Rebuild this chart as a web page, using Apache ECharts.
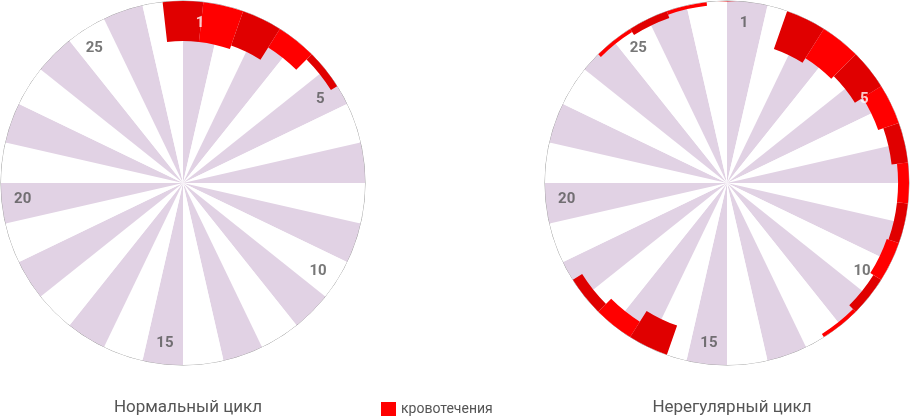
<!DOCTYPE html><html><head><meta charset="utf-8">
<script src="https://cdn.jsdelivr.net/npm/echarts@6/dist/echarts.min.js"></script>
<style>body{margin:0}#c{width:911px;height:416px}</style></head><body><div id="c"></div>
<script>
const days = Array.from({length:28},(_,i)=>String(i+1));
const normalBleed = [0.22,0.22,0.2,0.12,0.04,0,0,0,0,0,0,0,0,0,0,0,0,0,0,0,0,0,0,0,0,0,0,0];
const irregularBleed = [0,0,0.22,0.19,0.17,0.12,0.09,0.06,0.06,0.07,0.05,0.02,0,0,0,0,0.17,0.1,0.06,0,0,0,0,0,0,0.02,0.04,0.02];
const tickLabels = ['1','5','10','15','20','25'];
const tickPosNormal = [0.47,4.55,9.57,14.5,20.56,25.4];
const tickPosIrregular = [0.47,4.55,9.57,14.5,20.56,25.4];
const titles = ['Нормальный цикл','Нерегулярный цикл'];
const legendName = 'кровотечения';

const centers = [183,727];
const polar=[],angleAxis=[],radiusAxis=[],series=[];
function build(k,bleed,tpos,whiteIdx){
  const pi = k*2;
  [0,1].forEach(j=>{
    polar.push({center:[centers[k],183],radius:182});
    radiusAxis.push({polarIndex:pi+j,min:0,max:1,show:false});
  });
  angleAxis.push({polarIndex:pi,type:'category',data:days,startAngle:90+360/56,clockwise:true,
    axisLine:{show:false},axisTick:{show:false},axisLabel:{show:false},splitLine:{show:false}});
  angleAxis.push({polarIndex:pi+1,type:'value',min:0,max:28,startAngle:90,clockwise:true,
    axisLine:{show:true,lineStyle:{color:'#999',width:1}},axisTick:{show:false},axisLabel:{show:false},splitLine:{show:false}});
  series.push({type:'pie',center:[centers[k],183],radius:[0,182],startAngle:90,clockwise:true,silent:true,z:1,
    label:{show:false},labelLine:{show:false},
    data:days.map((d,i)=>({value:1,name:d,itemStyle:{color:i%2===0?'#e1d2e4':'#ffffff'}}))});
  series.push({type:'bar',coordinateSystem:'polar',polarIndex:pi,barWidth:'100%',barCategoryGap:'0%',stack:'s'+k,silent:true,z:3,
    data:bleed.map(v=>({value:1-v,itemStyle:{color:'rgba(0,0,0,0)'}}))});
  series.push({type:'bar',coordinateSystem:'polar',polarIndex:pi,barWidth:'100%',barCategoryGap:'0%',stack:'s'+k,name:legendName,z:3,
    itemStyle:{color:'#ff0000'},
    data:bleed.map((v,i)=>({value:v,itemStyle:{color:i%2===0?'#e00000':'#ff0000'}}))});
  series.push({type:'scatter',coordinateSystem:'polar',polarIndex:pi+1,symbolSize:0,silent:true,z:5,
    data:tickLabels.map((t,i)=>({value:[0.885,tpos[i]],name:t,
      label:{color:i===whiteIdx?'#fff':'#555'}})),
    label:{show:true,position:'inside',formatter:p=>p.name,fontSize:15,fontWeight:'bold',fontFamily:'Roboto'}});
}
build(0,normalBleed,tickPosNormal,0);
build(1,irregularBleed,tickPosIrregular,1);
const chart=echarts.init(document.getElementById('c'));
chart.setOption({
  animation:false,
  polar,angleAxis,radiusAxis,series,
  legend:{data:[{name:legendName,itemStyle:{color:'#ff0000'}}],left:376,top:397,itemWidth:15,itemHeight:15,icon:'rect',itemGap:8,
    textStyle:{color:'#555',fontSize:14,fontFamily:'Roboto'}},
  title:titles.map((t,i)=>({text:t,left:centers[i],top:394,textAlign:'center',
    textStyle:{color:'#555',fontSize:17,fontWeight:'normal',fontFamily:'Roboto'}}))
});
</script></body></html>
